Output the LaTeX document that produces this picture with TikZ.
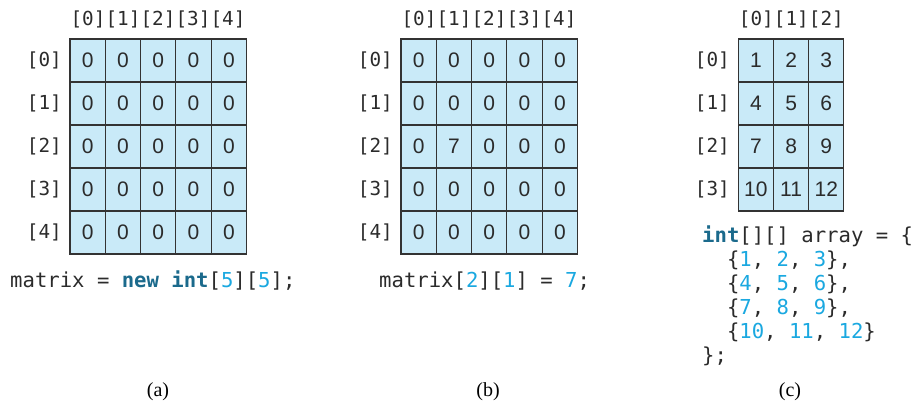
\documentclass[tikz,border=0pt]{standalone}
\usepackage{fontspec}
\setmainfont{Liberation Serif}
\newfontfamily\codefont{DejaVu Sans Mono}
\newfontfamily\cellfont{Liberation Sans}
\definecolor{cellfill}{HTML}{C9EAF8}
\definecolor{cellline}{HTML}{333333}
\definecolor{numblue}{HTML}{1AA8E0}
\definecolor{kwblue}{HTML}{1B6A8C}
\definecolor{txt}{HTML}{2B2B2B}
\newcommand{\kw}[1]{{\bfseries\color{kwblue}#1}}
\newcommand{\nb}[1]{{\color{numblue}#1}}
\begin{document}
\begin{tikzpicture}[x=1pt,y=-1pt,
  cellbox/.style={draw=cellline,line width=1.1pt,fill=cellfill,minimum width=35.3pt,minimum height=43pt,inner sep=0pt,
    font=\cellfont\fontsize{21}{24}\selectfont,text=txt},
  idx/.style={font=\codefont\fontsize{19.3}{23}\selectfont,text=txt,inner sep=0pt},
  codeline/.style={font=\codefont\fontsize{20.6}{24}\selectfont,text=txt,inner sep=0pt,anchor=base west},
  captext/.style={font=\fontsize{20}{24}\selectfont,text=black,inner sep=0pt}]
\useasboundingbox (0,0) rectangle (920,407);
% (a)
\foreach \r in {0,...,4}{
  \foreach \c in {0,...,4}{
    \node[cellbox] (a-\r-\c) at ({70+(\c+0.5)*35.3},{39+(\r+0.5)*43}) {0};
  }
  \node[idx,anchor=east] (ar\r) at (62,{39+(\r+0.5)*43}) {[\r]};
  \node[idx] (ac\r) at ({70.5+(\r+0.5)*35},19) {[\r]};
}
% (b)
\foreach \r in {0,...,4}{
  \foreach \c in {0,...,4}{
    \pgfmathtruncatemacro{\v}{(\r==2 && \c==1) ? 7 : 0}
    \node[cellbox] (b-\r-\c) at ({401+(\c+0.5)*35.3},{39+(\r+0.5)*43}) {\v};
  }
  \node[idx,anchor=east] (br\r) at (393,{39+(\r+0.5)*43}) {[\r]};
  \node[idx] (bc\r) at ({401.5+(\r+0.5)*35},19) {[\r]};
}
% (c)
\foreach \r in {0,...,3}{
  \foreach \c in {0,...,2}{
    \pgfmathtruncatemacro{\v}{\r*3+\c+1}
    \node[cellbox,minimum width=35.2pt] (c-\r-\c) at ({738.3+(\c+0.5)*35.2},{39+(\r+0.5)*43}) {\v};
  }
  \node[idx,anchor=east] (cr\r) at (730,{39+(\r+0.5)*43}) {[\r]};
}
\foreach \c in {0,1,2}{
  \node[idx] (cc\c) at ({738.8+(\c+0.5)*35},19) {[\c]};
}
% code
\node[codeline] (codea) at (10,287) {matrix = \kw{new} \kw{int}[\nb{5}][\nb{5}];};
\node[codeline] (codeb) at (379,287) {matrix[\nb{2}][\nb{1}] = \nb{7};};
\node[codeline] (codec1) at (702,242) {\kw{int}[][] array = \{};
\node[codeline] (codec2) at (702,266) {\ \ \{\nb{1}, \nb{2}, \nb{3}\},};
\node[codeline] (codec3) at (702,290) {\ \ \{\nb{4}, \nb{5}, \nb{6}\},};
\node[codeline] (codec4) at (702,314) {\ \ \{\nb{7}, \nb{8}, \nb{9}\},};
\node[codeline] (codec5) at (702,338) {\ \ \{\nb{10}, \nb{11}, \nb{12}\}};
\node[codeline] (codec6) at (702,362) {\};};
% captions
\node[captext] (capa) at (158,392) {(a)};
\node[captext] (capb) at (488,392) {(b)};
\node[captext] (capc) at (790,392) {(c)};
\end{tikzpicture}
\end{document}
